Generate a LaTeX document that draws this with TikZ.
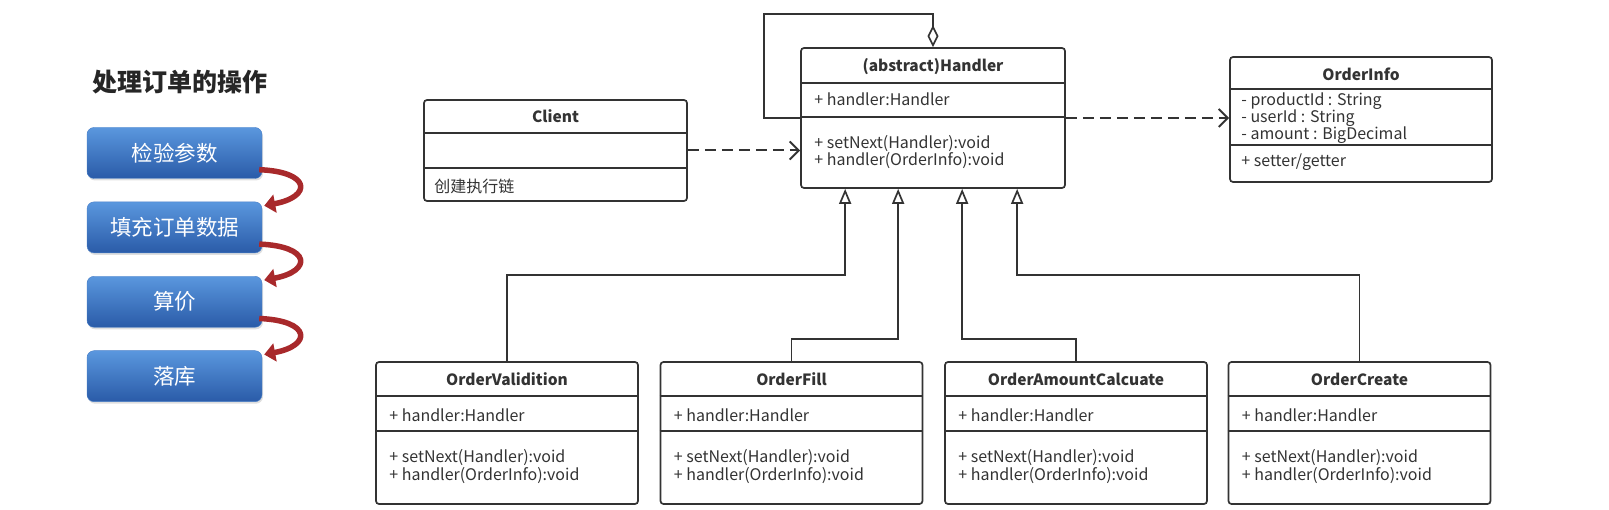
\documentclass[tikz,border=0pt]{standalone}
\usepackage{fontspec}
\setmainfont{Noto Sans CJK SC}
\usetikzlibrary{arrows.meta,shadows,positioning}

\definecolor{steptop}{HTML}{5A97DE}
\definecolor{stepbottom}{HTML}{2A5BA8}
\definecolor{stepedge}{HTML}{4A80C8}
\definecolor{flowred}{HTML}{A8292B}
\definecolor{umlline}{HTML}{333333}

\tikzset{
  stepbox/.style={rounded corners=7pt, top color=steptop, bottom color=stepbottom,
    draw=stepedge, minimum width=175pt, minimum height=51pt, text=white,
    font=\fontsize{21.5}{25}\selectfont,
    drop shadow={opacity=0.25, shadow xshift=1pt, shadow yshift=-2pt}},
  flowarrow/.style={draw=flowred, line width=5.5pt, -{Triangle[length=11pt,width=18pt]}},
  umlbox/.style={draw=umlline, line width=1.7pt, rounded corners=3pt, inner sep=0pt, fill=white},
  umlsep/.style={draw=umlline, line width=1.7pt},
  umltitle/.style={inner sep=0pt, font=\bfseries\fontsize{15.5}{18}\selectfont, text=umlline},
  umlmember/.style={anchor=west, inner sep=0pt, font=\fontsize{16}{18}\selectfont, text=umlline},
  depend/.style={draw=umlline, line width=2pt, dash pattern=on 11pt off 6pt,
    -{Straight Barb[length=9pt,width=18pt]}},
  inherit/.style={draw=umlline, line width=1.7pt, -{Triangle[open,length=15pt,width=12pt]}},
  aggr/.style={draw=umlline, line width=1.7pt, -{Diamond[open,length=22pt,width=11pt]}}
}

\begin{document}
\begin{tikzpicture}[x=1pt,y=-1pt]
    \useasboundingbox (0,0) rectangle (1609,510);

    % left: steps of the order
    \node[font=\bfseries\fontsize{25}{29}\selectfont, anchor=west, inner sep=0pt, text=black!85] (title) at (92,82) {处理订单的操作};
    \node[stepbox] (s1) at (174.5,153) {检验参数};
    \node[stepbox, below=23pt of s1] (s2) {填充订单数据};
    \node[stepbox, below=23pt of s2] (s3) {算价};
    \node[stepbox, below=23pt of s3] (s4) {落库};

    \foreach \a/\b in {s1/s2, s2/s3, s3/s4}
        \draw[flowarrow] ([xshift=-3pt,yshift=9pt]\a.south east) .. controls +(52pt,-2pt) and +(48pt,9pt) .. ([xshift=2pt,yshift=-4pt]\b.north east);

    % client
    \node[umlbox, minimum width=263pt, minimum height=101pt] (client) at (555.5,150.5) {};
    \draw[umlsep] ([yshift=-34pt]client.north west) -- ([yshift=-34pt]client.north east);
    \draw[umlsep] ([yshift=-69pt]client.north west) -- ([yshift=-69pt]client.north east);
    \node[umltitle] (client-name) at ([yshift=-17pt]client.north) {Client};
    \node[umlmember] (client-op) at ([xshift=11pt,yshift=-87pt]client.north west) {创建执行链};

    % handler
    \node[umlbox, minimum width=264pt, minimum height=140pt] (handler) at (933,118) {};
    \draw[umlsep] ([yshift=-36pt]handler.north west) -- ([yshift=-36pt]handler.north east);
    \draw[umlsep] ([yshift=-70pt]handler.north west) -- ([yshift=-70pt]handler.north east);
    \node[umltitle] (handler-name) at ([yshift=-19pt]handler.north) {(abstract)Handler};
    \node[umlmember] (handler-attr) at ([xshift=14pt,yshift=-52pt]handler.north west) {+ handler:Handler};
    \node[umlmember] (handler-op1) at ([xshift=14pt,yshift=-96pt]handler.north west) {+ setNext(Handler):void};
    \node[umlmember] (handler-op2) at ([xshift=14pt,yshift=-113pt]handler.north west) {+ handler(OrderInfo):void};

    % order info
    \node[umlbox, minimum width=262pt, minimum height=125pt] (info) at (1361,119.5) {};
    \draw[umlsep] ([yshift=-33pt]info.north west) -- ([yshift=-33pt]info.north east);
    \draw[umlsep] ([yshift=-89pt]info.north west) -- ([yshift=-89pt]info.north east);
    \node[umltitle] (info-name) at ([yshift=-18pt]info.north) {OrderInfo};
    \node[umlmember] (info-a1) at ([xshift=12pt,yshift=-45pt]info.north west) {- productId : String};
    \node[umlmember] (info-a2) at ([xshift=12pt,yshift=-62pt]info.north west) {- userId : String};
    \node[umlmember] (info-a3) at ([xshift=12pt,yshift=-79pt]info.north west) {- amount : BigDecimal};
    \node[umlmember] (info-op) at ([xshift=12pt,yshift=-106pt]info.north west) {+ setter/getter};

    % concrete handlers
    \foreach \n/\cx/\t in {ov/507/OrderValidition, of/791.5/OrderFill, oa/1076/OrderAmountCalcuate, oc/1359.5/OrderCreate} {
        \node[umlbox, minimum width=262pt, minimum height=142pt] (\n) at (\cx,433) {};
        \draw[umlsep] ([yshift=-35pt]\n.north west) -- ([yshift=-35pt]\n.north east);
        \draw[umlsep] ([yshift=-70pt]\n.north west) -- ([yshift=-70pt]\n.north east);
        \node[umltitle] (\n-name) at ([yshift=-18pt]\n.north) {\t};
        \node[umlmember] (\n-attr) at ([xshift=14pt,yshift=-54pt]\n.north west) {+ handler:Handler};
        \node[umlmember] (\n-op1) at ([xshift=14pt,yshift=-96pt]\n.north west) {+ setNext(Handler):void};
        \node[umlmember] (\n-op2) at ([xshift=14pt,yshift=-114pt]\n.north west) {+ handler(OrderInfo):void};
    }

    % connectors
    \coordinate (hb1) at ([xshift=45pt]handler.south west);
    \coordinate (hb2) at ([xshift=98pt]handler.south west);
    \coordinate (hb3) at ([xshift=162pt]handler.south west);
    \coordinate (hb4) at ([xshift=217pt]handler.south west);

    \draw[inherit] (ov.north) -- ++(0,-86) -| (hb1);
    \draw[inherit] (of.north) -- ++(0,-22) -| (hb2);
    \draw[inherit] (oa.north) -- ++(0,-22) -| (hb3);
    \draw[inherit] (oc.north) -- ++(0,-86) -| (hb4);

    \draw[depend] (client.east) -- (client.east -| handler.west);
    \draw[depend] (handler.east) -- (handler.east -| info.west);
    \draw[aggr] (handler.west) -- ++(-36,0) |- ([yshift=33pt]handler.north) -- (handler.north);
\end{tikzpicture}
\end{document}
